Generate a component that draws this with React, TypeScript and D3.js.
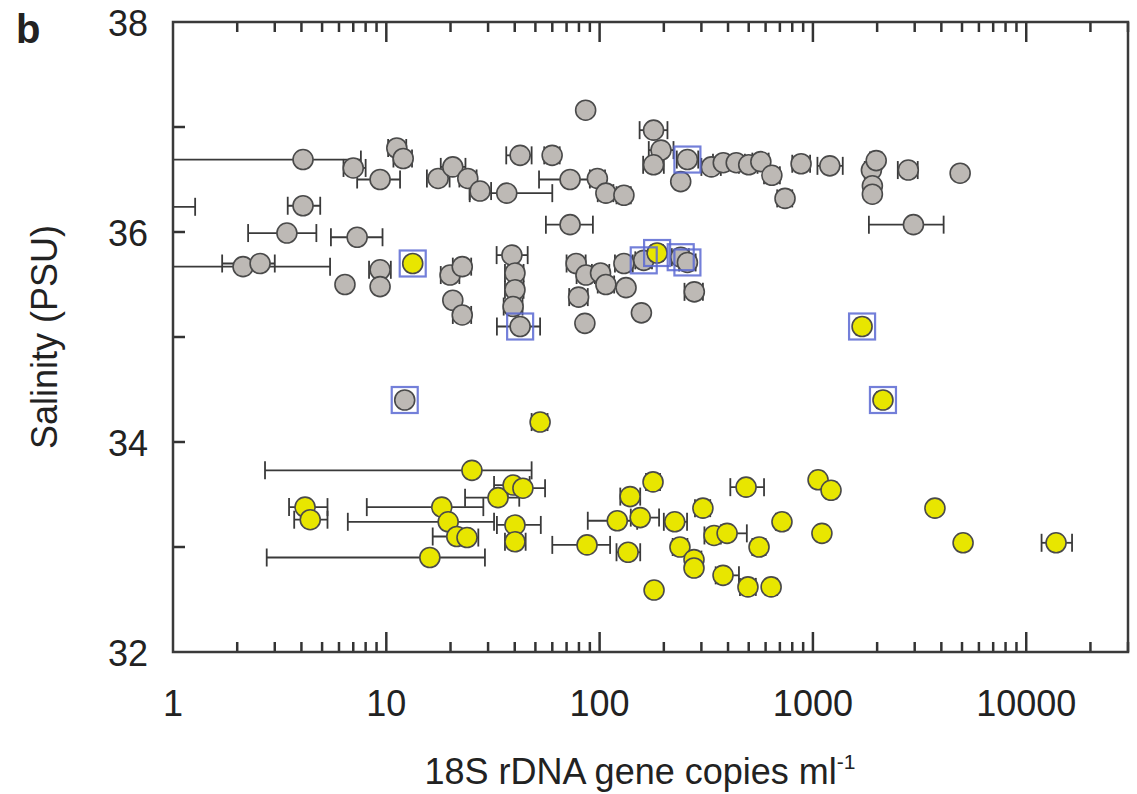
import { useRef, useEffect } from 'react';
import * as d3 from 'd3';

// gray samples: copies, salinity, error low, error high
const grayCopies = [86, 179, 194, 179, 11.2, 12.0, 4.07, 7.0, 9.35, 17.5, 20.5, 24.1, 27.5, 36.7, 42.4, 59.9, 72.7, 97.6, 107, 130, 72.7, 240, 258, 334, 380, 437, 500, 570, 642, 740, 880, 1200, 1880, 1980, 1900, 1900, 2800, 4900, 2960,
  0.8, 4.07, 3.42, 7.3, 2.13, 2.56, 6.4, 9.35, 9.35, 19.9, 22.7, 20.5, 22.7, 38.8, 40.1, 40.1, 39.3, 42.4, 77.6, 86.3, 101, 79.7, 107, 133, 130, 85.3, 157, 278, 161, 240, 258, 12.2];
const graySalinity = [37.16, 36.97, 36.78, 36.64, 36.8, 36.7, 36.69, 36.61, 36.5, 36.51, 36.62, 36.51, 36.39, 36.37, 36.73, 36.73, 36.5, 36.51, 36.37, 36.35, 36.07, 36.48, 36.69, 36.62, 36.66, 36.66, 36.64, 36.67, 36.54, 36.32, 36.65, 36.63, 36.59, 36.68, 36.44, 36.36, 36.59, 36.56, 36.07,
  36.24, 36.25, 35.99, 35.95, 35.67, 35.7, 35.5, 35.64, 35.48, 35.59, 35.67, 35.35, 35.21, 35.78, 35.61, 35.45, 35.29, 35.1, 35.7, 35.59, 35.61, 35.38, 35.5, 35.47, 35.7, 35.13, 35.23, 35.43, 35.73, 35.76, 35.71, 34.4];
const grayLow = [86, 154, 170, 160, 10.2, 10.8, 0.5, 6.3, 7.3, 15.5, 18, 22, 24.6, 24.6, 36.5, 55, 52, 90, 98, 120, 56, 240, 230, 300, 340, 400, 450, 520, 590, 680, 800, 1050, 1750, 1850, 1800, 1900, 2500, 4900, 1830,
  0.5, 3.45, 2.25, 5.5, 0.5, 1.7, 6.4, 8.3, 9.35, 18, 20.5, 20.5, 20.5, 32.9, 36, 36, 35.5, 33, 70, 78, 92, 72, 98, 133, 118, 85.3, 157, 250, 147, 218, 236, 12.2];
const grayHigh = [86, 208, 222, 200, 12.4, 13.2, 7.6, 8.0, 11.6, 19.8, 23.5, 26.5, 31, 60, 48, 65, 90, 106, 116, 140, 93, 240, 290, 370, 420, 480, 550, 620, 700, 800, 970, 1380, 2000, 2100, 2000, 1900, 3100, 4900, 4100,
  1.27, 4.9, 4.7, 9.6, 5.45, 3.0, 6.4, 10.5, 9.35, 22, 25, 20.5, 25, 46, 44, 44, 43.5, 52.6, 86, 95, 111, 88, 117, 133, 143, 85.3, 157, 305, 176, 262, 282, 12.2];

// yellow samples
const yellowCopies = [4.16, 4.4, 16.0, 18.2, 19.5, 21.4, 23.9, 25.2, 33.4, 39.3, 43.7, 40.1, 40.1, 87.3, 121, 139, 155, 136, 178, 180, 225, 238, 277, 277, 305, 344, 396, 379, 486, 496, 559, 637, 716, 1057, 1102, 1216, 3733, 5058, 13800, 52.6, 13.3, 186, 1700, 2130];
const yellowSalinity = [33.38, 33.26, 32.9, 33.38, 33.24, 33.1, 33.09, 33.73, 33.47, 33.59, 33.56, 33.21, 33.05, 33.02, 33.25, 33.48, 33.28, 32.95, 33.62, 32.59, 33.24, 33.0, 32.88, 32.8, 33.37, 33.11, 33.13, 32.73, 33.57, 32.62, 33.0, 32.62, 33.24, 33.64, 33.13, 33.54, 33.37, 33.04, 33.04, 34.19, 35.7, 35.8, 35.1, 34.4];
const yellowLow = [3.5, 3.7, 2.75, 8.1, 6.6, 16.5, 21, 2.7, 23.4, 32, 37, 33, 36, 60, 88, 125, 140, 120, 165, 180, 200, 220, 260, 262, 280, 310, 370, 350, 410, 455, 520, 600, 670, 1000, 1102, 1150, 3733, 4800, 11800, 48, 13.3, 175, 1600, 2000];
const yellowHigh = [5.3, 5.3, 29, 28.5, 32, 24.7, 27, 48, 42, 47, 55.5, 53, 45, 112, 150, 155, 190, 155, 192, 180, 257, 258, 300, 295, 330, 370, 490, 450, 590, 540, 600, 680, 760, 1120, 1102, 1290, 3733, 5300, 16400, 57, 13.3, 198, 1800, 2250];

// samples marked with a blue square
const boxedCopies = [258, 42.4, 161, 240, 258, 12.2, 13.3, 186, 1700, 2130];
const boxedSalinity = [36.69, 35.1, 35.73, 35.76, 35.71, 34.4, 35.7, 35.8, 35.1, 34.4];

const xTickValues = [1, 10, 100, 1000, 10000];
const yTickValues = [32, 34, 36, 38];
const yMinorTicks = [33, 35, 37];

const LEFT = 173, RIGHT = 1128, TOP = 22, BOTTOM = 652;
const FONT = '"Liberation Sans", Arial, sans-serif';

export default function App() {
  const svgRef = useRef<SVGSVGElement>(null);

  useEffect(function () {
    const svg = d3.select(svgRef.current);
    svg.selectAll('*').remove();

    const x = d3.scaleLog().domain([1, 30000]).range([LEFT, RIGHT]);
    const y = d3.scaleLinear().domain([32, 38]).range([BOTTOM, TOP]);

    svg.append('defs').append('clipPath').attr('id', 'plotClip')
      .append('rect')
      .attr('x', LEFT).attr('y', TOP)
      .attr('width', RIGHT - LEFT).attr('height', BOTTOM - TOP);

    // minor + major x ticks (bottom pointing up, top pointing down)
    const xTicks = x.ticks();
    const tickG = svg.append('g').attr('stroke', '#333').attr('stroke-width', 2.5);
    xTicks.forEach(function (t) {
      const major = xTickValues.indexOf(t) >= 0;
      if (t === 1) return;
      const len = major ? 20 : 10;
      tickG.append('line').attr('x1', x(t)).attr('x2', x(t)).attr('y1', BOTTOM).attr('y2', BOTTOM - len);
      tickG.append('line').attr('x1', x(t)).attr('x2', x(t)).attr('y1', TOP).attr('y2', TOP + len);
    });
    yTickValues.concat(yMinorTicks).forEach(function (t) {
      if (t === 32 || t === 38) return;
      tickG.append('line').attr('x1', LEFT).attr('x2', LEFT + 12).attr('y1', y(t)).attr('y2', y(t));
    });

    const plot = svg.append('g').attr('clip-path', 'url(#plotClip)');

    function drawSeries(xs: number[], ys: number[], lo: number[], hi: number[], fill: string) {
      const g = plot.append('g');
      xs.forEach(function (v, i) {
        if (lo[i] === hi[i]) return;
        const cy = y(ys[i]);
        const eg = g.append('g').attr('stroke', '#3a3a3a').attr('stroke-width', 1.8);
        eg.append('line').attr('x1', x(lo[i])).attr('x2', x(hi[i])).attr('y1', cy).attr('y2', cy);
        eg.append('line').attr('x1', x(lo[i])).attr('x2', x(lo[i])).attr('y1', cy - 9).attr('y2', cy + 9);
        eg.append('line').attr('x1', x(hi[i])).attr('x2', x(hi[i])).attr('y1', cy - 9).attr('y2', cy + 9);
      });
      xs.forEach(function (v, i) {
        g.append('circle')
          .attr('cx', x(v)).attr('cy', y(ys[i])).attr('r', 10)
          .attr('fill', fill).attr('stroke', '#4a4a4a').attr('stroke-width', 1.6);
      });
    }

    drawSeries(grayCopies, graySalinity, grayLow, grayHigh, '#bdb9b5');
    drawSeries(yellowCopies, yellowSalinity, yellowLow, yellowHigh, '#e8e600');

    boxedCopies.forEach(function (v, i) {
      plot.append('rect')
        .attr('x', x(v) - 13).attr('y', y(boxedSalinity[i]) - 13)
        .attr('width', 26).attr('height', 26)
        .attr('fill', 'none').attr('stroke', '#5a68d2').attr('stroke-width', 2.2)
        .attr('opacity', 0.85);
    });

    // frame
    svg.append('rect')
      .attr('x', LEFT).attr('y', TOP).attr('width', RIGHT - LEFT).attr('height', BOTTOM - TOP)
      .attr('fill', 'none').attr('stroke', '#3a3a3a').attr('stroke-width', 2.5);

    // tick labels
    xTickValues.forEach(function (t) {
      svg.append('text')
        .attr('x', x(t)).attr('y', 716)
        .attr('text-anchor', 'middle')
        .attr('font-family', FONT).attr('font-size', 36).attr('fill', '#222')
        .text(String(t));
    });
    yTickValues.forEach(function (t) {
      svg.append('text')
        .attr('x', 148).attr('y', y(t) + 14)
        .attr('text-anchor', 'end')
        .attr('font-family', FONT).attr('font-size', 36).attr('fill', '#222')
        .text(String(t));
    });

    // axis titles
    const xt = svg.append('text')
      .attr('x', 640).attr('y', 784)
      .attr('text-anchor', 'middle')
      .attr('font-family', FONT).attr('font-size', 36).attr('fill', '#222');
    xt.append('tspan').text('18S rDNA gene copies ml');
    xt.append('tspan').attr('dy', -15).attr('font-size', 21).text('-1');

    svg.append('text')
      .attr('transform', 'translate(57,' + ((TOP + BOTTOM) / 2) + ') rotate(-90)')
      .attr('text-anchor', 'middle')
      .attr('font-family', FONT).attr('font-size', 36).attr('fill', '#222')
      .text('Salinity (PSU)');

    svg.append('text')
      .attr('x', 16).attr('y', 43)
      .attr('font-family', FONT).attr('font-size', 40).attr('font-weight', 'bold').attr('fill', '#222')
      .text('b');
  }, []);

  return (
    <div style={{ position: 'absolute', left: 0, top: 0 }}>
      <svg ref={svgRef} width={1137} height={794} style={{ display: 'block', background: '#fff' }} />
    </div>
  );
}
